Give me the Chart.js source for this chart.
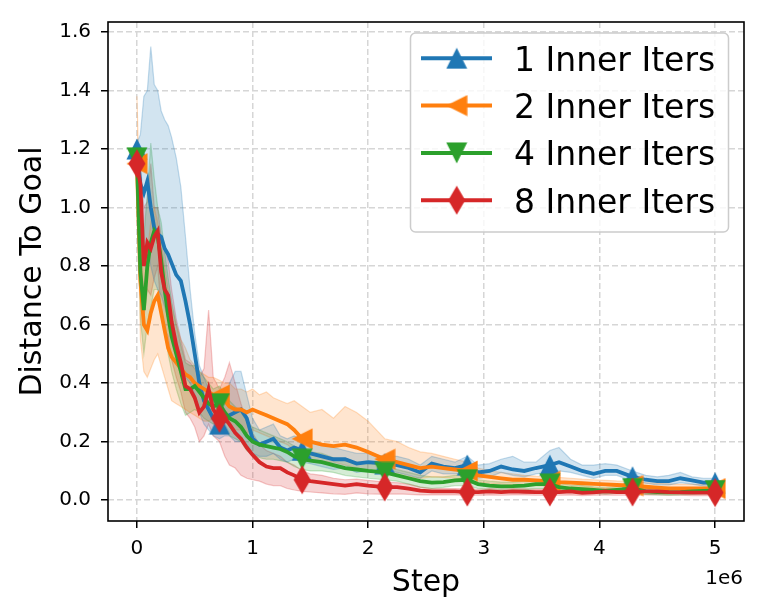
<!DOCTYPE html>
<html>
<head>
<meta charset="utf-8">
<script src="https://cdn.jsdelivr.net/npm/chart.js@4.4.1/dist/chart.umd.min.js"></script>
<style>
  body { margin: 0; background: #fff; }
  #wrap { width: 761px; height: 616px; }
</style>
</head>
<body>
<div id="wrap"><canvas id="myChart" width="761" height="616"></canvas></div>
<script>
// x values in units of 1e6 steps
const steps = [0, 0.03, 0.06, 0.09, 0.12, 0.15, 0.18, 0.21, 0.24, 0.27,
  0.3, 0.34, 0.38, 0.42, 0.46, 0.5, 0.54, 0.58, 0.62, 0.66,
  0.714, 0.76, 0.8, 0.85, 0.9, 0.95, 1.0, 1.06, 1.12, 1.18,
  1.24, 1.3, 1.36, 1.429, 1.5, 1.6, 1.7, 1.8, 1.9, 2.0,
  2.143, 2.25, 2.35, 2.45, 2.55, 2.65, 2.75, 2.857, 2.95, 3.05,
  3.15, 3.25, 3.35, 3.45, 3.571, 3.65, 3.75, 3.85, 3.95, 4.05,
  4.15, 4.286, 4.4, 4.5, 4.6, 4.7, 4.8, 4.9, 5.0];
// indexes of steps that carry a marker
const markerIdx = [0, 20, 33, 40, 47, 54, 61, 68];

const labels = ["1 Inner Iters", "2 Inner Iters", "4 Inner Iters", "8 Inner Iters"];

const mean1 = [1.20, 1.08, 1.05, 1.09, 1.00, 0.93, 0.91, 0.90, 0.86, 0.84,
  0.81, 0.77, 0.75, 0.68, 0.60, 0.50, 0.40, 0.34, 0.31, 0.28,
  0.26, 0.27, 0.29, 0.30, 0.31, 0.28, 0.21, 0.19, 0.20, 0.21,
  0.18, 0.17, 0.18, 0.17, 0.16, 0.15, 0.14, 0.14, 0.125, 0.13,
  0.125, 0.12, 0.11, 0.095, 0.125, 0.115, 0.11, 0.12, 0.095, 0.10,
  0.115, 0.105, 0.10, 0.11, 0.12, 0.13, 0.115, 0.10, 0.09, 0.10,
  0.10, 0.08, 0.07, 0.065, 0.065, 0.075, 0.068, 0.06, 0.06];
const hi1 = [1.22, 1.25, 1.38, 1.40, 1.55, 1.42, 1.40, 1.33, 1.30, 1.28,
  1.24, 1.17, 1.07, 0.90, 0.72, 0.57, 0.46, 0.42, 0.38, 0.34,
  0.31, 0.33, 0.40, 0.44, 0.44, 0.36, 0.28, 0.24, 0.25, 0.26,
  0.22, 0.21, 0.22, 0.21, 0.20, 0.19, 0.18, 0.17, 0.16, 0.16,
  0.15, 0.15, 0.14, 0.12, 0.15, 0.14, 0.13, 0.15, 0.12, 0.125,
  0.14, 0.15, 0.13, 0.13, 0.17, 0.18, 0.14, 0.12, 0.12, 0.125,
  0.12, 0.10, 0.085, 0.08, 0.085, 0.095, 0.08, 0.075, 0.075];
const lo1 = [1.18, 0.90, 0.85, 0.88, 0.80, 0.75, 0.72, 0.70, 0.66, 0.62,
  0.58, 0.50, 0.46, 0.42, 0.40, 0.36, 0.30, 0.26, 0.24, 0.22,
  0.21, 0.22, 0.22, 0.20, 0.20, 0.19, 0.16, 0.15, 0.15, 0.16,
  0.14, 0.13, 0.14, 0.13, 0.125, 0.115, 0.105, 0.11, 0.095, 0.10,
  0.10, 0.095, 0.085, 0.075, 0.10, 0.09, 0.09, 0.095, 0.075, 0.08,
  0.095, 0.085, 0.08, 0.09, 0.095, 0.10, 0.095, 0.085, 0.075, 0.085,
  0.085, 0.065, 0.058, 0.052, 0.052, 0.06, 0.055, 0.048, 0.048];

const mean2 = [1.15, 0.75, 0.60, 0.58, 0.64, 0.68, 0.70, 0.64, 0.58, 0.52,
  0.49, 0.47, 0.45, 0.43, 0.42, 0.40, 0.39, 0.38, 0.37, 0.36,
  0.36, 0.34, 0.32, 0.31, 0.31, 0.30, 0.31, 0.30, 0.29, 0.28,
  0.27, 0.26, 0.24, 0.21, 0.20, 0.19, 0.185, 0.19, 0.18, 0.165,
  0.14, 0.13, 0.12, 0.11, 0.115, 0.11, 0.105, 0.10, 0.085, 0.08,
  0.075, 0.07, 0.07, 0.068, 0.065, 0.062, 0.06, 0.058, 0.056, 0.054,
  0.052, 0.05, 0.046, 0.043, 0.04, 0.04, 0.04, 0.04, 0.04];
const hi2 = [1.38, 0.95, 0.82, 0.85, 0.95, 1.00, 0.95, 0.88, 0.80, 0.72,
  0.66, 0.60, 0.55, 0.52, 0.48, 0.46, 0.44, 0.43, 0.42, 0.42,
  0.41, 0.40, 0.40, 0.38, 0.38, 0.37, 0.38, 0.36, 0.37, 0.35,
  0.34, 0.33, 0.34, 0.32, 0.30, 0.31, 0.28, 0.32, 0.30, 0.27,
  0.21, 0.20, 0.18, 0.165, 0.16, 0.15, 0.14, 0.13, 0.11, 0.10,
  0.095, 0.09, 0.085, 0.082, 0.08, 0.078, 0.075, 0.072, 0.07, 0.068,
  0.066, 0.065, 0.06, 0.058, 0.056, 0.055, 0.054, 0.055, 0.058];
const lo2 = [1.13, 0.55, 0.44, 0.42, 0.45, 0.48, 0.50, 0.46, 0.42, 0.38,
  0.34, 0.33, 0.32, 0.31, 0.30, 0.29, 0.28, 0.27, 0.27, 0.28,
  0.29, 0.27, 0.25, 0.24, 0.24, 0.23, 0.24, 0.23, 0.22, 0.21,
  0.20, 0.19, 0.17, 0.15, 0.14, 0.13, 0.13, 0.12, 0.11, 0.10,
  0.09, 0.085, 0.08, 0.075, 0.08, 0.078, 0.075, 0.07, 0.062, 0.058,
  0.055, 0.052, 0.05, 0.05, 0.048, 0.046, 0.045, 0.044, 0.042, 0.04,
  0.04, 0.036, 0.033, 0.03, 0.028, 0.027, 0.026, 0.025, 0.024];

const mean4 = [1.17, 0.78, 0.65, 0.80, 0.88, 0.92, 0.90, 0.82, 0.72, 0.63,
  0.56, 0.50, 0.44, 0.38, 0.38, 0.39, 0.37, 0.35, 0.33, 0.32,
  0.33, 0.30, 0.28, 0.27, 0.25, 0.22, 0.20, 0.19, 0.185, 0.18,
  0.175, 0.165, 0.15, 0.14, 0.135, 0.13, 0.12, 0.11, 0.105, 0.10,
  0.095, 0.085, 0.075, 0.065, 0.06, 0.062, 0.068, 0.07, 0.055, 0.05,
  0.047, 0.048, 0.05, 0.055, 0.055, 0.045, 0.04, 0.038, 0.035, 0.032,
  0.035, 0.04, 0.03, 0.028, 0.027, 0.028, 0.03, 0.032, 0.033];
const hi4 = [1.19, 0.95, 0.90, 1.05, 1.22, 1.10, 1.00, 0.95, 0.85, 0.76,
  0.68, 0.60, 0.53, 0.47, 0.46, 0.46, 0.44, 0.42, 0.40, 0.38,
  0.39, 0.36, 0.34, 0.32, 0.30, 0.27, 0.25, 0.24, 0.23, 0.22,
  0.21, 0.20, 0.185, 0.175, 0.165, 0.16, 0.145, 0.135, 0.13, 0.125,
  0.12, 0.105, 0.095, 0.085, 0.08, 0.08, 0.085, 0.09, 0.07, 0.065,
  0.062, 0.062, 0.065, 0.07, 0.07, 0.058, 0.052, 0.05, 0.046, 0.043,
  0.046, 0.052, 0.04, 0.038, 0.037, 0.038, 0.04, 0.042, 0.044];
const lo4 = [1.15, 0.62, 0.50, 0.60, 0.66, 0.72, 0.72, 0.66, 0.58, 0.50,
  0.44, 0.38, 0.33, 0.29, 0.30, 0.31, 0.30, 0.28, 0.27, 0.26,
  0.27, 0.24, 0.22, 0.21, 0.20, 0.17, 0.155, 0.145, 0.14, 0.14,
  0.135, 0.13, 0.115, 0.105, 0.10, 0.10, 0.095, 0.085, 0.08, 0.075,
  0.07, 0.065, 0.055, 0.045, 0.04, 0.044, 0.05, 0.05, 0.04, 0.035,
  0.032, 0.034, 0.035, 0.04, 0.04, 0.032, 0.028, 0.026, 0.024, 0.021,
  0.024, 0.028, 0.02, 0.018, 0.017, 0.018, 0.02, 0.022, 0.022];

const mean8 = [1.15, 1.08, 0.80, 0.88, 0.86, 0.90, 0.92, 0.78, 0.72, 0.70,
  0.61, 0.53, 0.47, 0.39, 0.38, 0.35, 0.30, 0.32, 0.38, 0.31,
  0.28, 0.28, 0.26, 0.23, 0.21, 0.18, 0.155, 0.13, 0.115, 0.11,
  0.11, 0.095, 0.085, 0.07, 0.065, 0.06, 0.055, 0.05, 0.055, 0.05,
  0.045, 0.045, 0.04, 0.033, 0.03, 0.03, 0.03, 0.028, 0.028, 0.03,
  0.028, 0.03, 0.029, 0.028, 0.028, 0.028, 0.03, 0.025, 0.027, 0.03,
  0.028, 0.028, 0.03, 0.03, 0.028, 0.027, 0.026, 0.026, 0.026];
const hi8 = [1.17, 1.15, 1.00, 1.02, 1.15, 1.00, 1.00, 0.90, 0.86, 0.82,
  0.72, 0.62, 0.55, 0.48, 0.47, 0.45, 0.42, 0.45, 0.65, 0.42,
  0.38, 0.42, 0.47, 0.40, 0.33, 0.27, 0.23, 0.19, 0.17, 0.16,
  0.15, 0.13, 0.12, 0.10, 0.09, 0.085, 0.075, 0.07, 0.072, 0.068,
  0.062, 0.06, 0.055, 0.045, 0.04, 0.04, 0.04, 0.038, 0.037, 0.04,
  0.038, 0.04, 0.039, 0.038, 0.038, 0.038, 0.04, 0.035, 0.037, 0.04,
  0.038, 0.038, 0.04, 0.04, 0.038, 0.037, 0.036, 0.036, 0.036];
const lo8 = [1.13, 0.95, 0.62, 0.72, 0.70, 0.76, 0.80, 0.64, 0.58, 0.56,
  0.48, 0.42, 0.37, 0.30, 0.28, 0.25, 0.20, 0.22, 0.26, 0.22,
  0.20, 0.15, 0.12, 0.11, 0.085, 0.075, 0.07, 0.065, 0.055, 0.05,
  0.05, 0.04, 0.035, 0.03, 0.028, 0.025, 0.022, 0.02, 0.025, 0.022,
  0.02, 0.022, 0.02, 0.018, 0.018, 0.018, 0.018, 0.017, 0.017, 0.018,
  0.017, 0.018, 0.018, 0.017, 0.017, 0.017, 0.018, 0.016, 0.017, 0.018,
  0.017, 0.017, 0.018, 0.018, 0.017, 0.017, 0.016, 0.016, 0.016];

const xTicks = [0, 1, 2, 3, 4, 5];
const xTickLabels = ["0", "1", "2", "3", "4", "5"];
const yTicks = [0, 0.2, 0.4, 0.6, 0.8, 1.0, 1.2, 1.4, 1.6];
const yTickLabels = ["0.0", "0.2", "0.4", "0.6", "0.8", "1.0", "1.2", "1.4", "1.6"];

const colors = ["31,119,180", "255,127,14", "44,160,44", "214,39,40"];
const shapes = ["triangle_up", "triangle_left", "triangle_down", "thin_diamond"];
const means = [mean1, mean2, mean4, mean8];
const his = [hi1, hi2, hi4, hi8];
const los = [lo1, lo2, lo4, lo8];

const FONT = '"DejaVu Sans", sans-serif';
Chart.defaults.font.family = FONT;
Chart.defaults.color = "#000";

// matplotlib style marker drawn once into a small canvas
function markerImage(shape, color) {
  const c = document.createElement("canvas");
  const w = shape === "thin_diamond" ? 18 : 22;
  const h = shape === "thin_diamond" ? 30 : 22;
  c.width = w; c.height = h;
  const g = c.getContext("2d");
  const pts = {
    triangle_up: [[11, 0.5], [21.5, 21.5], [0.5, 21.5]],
    triangle_left: [[0.5, 11], [21.5, 0.5], [21.5, 21.5]],
    triangle_down: [[0.5, 0.5], [21.5, 0.5], [11, 21.5]],
    thin_diamond: [[9, 0.5], [17.5, 15], [9, 29.5], [0.5, 15]]
  }[shape];
  g.beginPath();
  pts.forEach((p, i) => i ? g.lineTo(p[0], p[1]) : g.moveTo(p[0], p[1]));
  g.closePath();
  g.fillStyle = "rgb(" + color + ")";
  g.fill();
  return c;
}
const markers = shapes.map((s, i) => markerImage(s, colors[i]));

const toXY = arr => arr.map((v, i) => ({ x: steps[i], y: v }));

const datasets = [];
for (let i = 0; i < 4; i++) {
  const loIndex = datasets.length;
  datasets.push({
    data: toXY(los[i]),
    borderColor: "rgba(" + colors[i] + ",0.25)",
    borderWidth: 1.2,
    pointRadius: 0,
    fill: false,
    order: 20 + i
  });
  datasets.push({
    data: toXY(his[i]),
    borderColor: "rgba(" + colors[i] + ",0.25)",
    backgroundColor: "rgba(" + colors[i] + ",0.2)",
    borderWidth: 1.2,
    pointRadius: 0,
    fill: loIndex,
    order: 20 + i
  });
}
for (let i = 0; i < 4; i++) {
  datasets.push({
    label: labels[i],
    data: toXY(means[i]),
    borderColor: "rgb(" + colors[i] + ")",
    borderWidth: 3.8,
    fill: false,
    pointStyle: ctx => markerIdx.includes(ctx.dataIndex) ? markers[i] : false,
    pointRadius: ctx => markerIdx.includes(ctx.dataIndex) ? 10 : 0,
    order: 3 - i
  });
}

const framePlugin = {
  id: "frame",
  afterDatasetsDraw(chart) {
    const { ctx, chartArea: a } = chart;
    ctx.save();
    ctx.strokeStyle = "#000";
    ctx.lineWidth = 1.6;
    ctx.strokeRect(a.left, a.top, a.right - a.left, a.bottom - a.top);
    ctx.restore();
  },
  afterDraw(chart) {
    const { ctx, chartArea: a } = chart;
    ctx.save();
    // offset text of the x axis
    ctx.font = "20px " + FONT;
    ctx.fillStyle = "#000";
    ctx.textAlign = "right";
    ctx.textBaseline = "alphabetic";
    ctx.fillText("1e6", a.right - 1, 584);

    // legend box
    const bx = 410.5, by = 33, bw = 318, bh = 199;
    ctx.beginPath();
    ctx.roundRect(bx, by, bw, bh, 5);
    ctx.fillStyle = "rgba(255,255,255,0.8)";
    ctx.fill();
    ctx.strokeStyle = "#cccccc";
    ctx.lineWidth = 1.5;
    ctx.stroke();
    ctx.font = "33px " + FONT;
    ctx.textAlign = "left";
    for (let i = 0; i < 4; i++) {
      const y = 58.3 + i * 47.3;
      ctx.beginPath();
      ctx.moveTo(421, y);
      ctx.lineTo(492, y);
      ctx.strokeStyle = "rgb(" + colors[i] + ")";
      ctx.lineWidth = 4;
      ctx.stroke();
      const m = markers[i];
      ctx.drawImage(m, 456.7 - m.width / 2, y - m.height / 2);
      ctx.fillStyle = "#000";
      ctx.fillText(labels[i], 514, y + 12.5);
    }
    ctx.restore();
  }
};

const gridCommon = {
  color: "#d6d6d6",
  lineWidth: 1.5,
  tickLength: 7,
  tickColor: "#000",
  tickWidth: 1.5,
  tickBorderDash: []
};

new Chart("myChart", {
  type: "line",
  data: { datasets: datasets },
  options: {
    responsive: false,
    animation: false,
    devicePixelRatio: 1,
    events: [],
    layout: { padding: { left: 0, right: 17, top: 16, bottom: 0 } },
    plugins: {
      legend: { display: false },
      tooltip: { enabled: false }
    },
    elements: { line: { tension: 0 } },
    scales: {
      x: {
        type: "linear",
        min: -0.25,
        max: 5.25,
        afterBuildTicks: s => { s.ticks = xTicks.map(v => ({ value: v })); },
        afterFit: s => { s.height = 95; },
        ticks: {
          font: { size: 20 },
          color: "#000",
          padding: 9,
          maxRotation: 0,
          callback: (v, i) => xTickLabels[i]
        },
        grid: gridCommon,
        border: { display: false, dash: [6, 3] },
        title: {
          display: true,
          text: "Step",
          font: { size: 30 },
          color: "#000",
          padding: { top: 0, bottom: 15 }
        }
      },
      y: {
        min: -0.071,
        max: 1.634,
        afterBuildTicks: s => { s.ticks = yTicks.map(v => ({ value: v })); },
        afterFit: s => { s.width = 108; },
        ticks: {
          font: { size: 20 },
          color: "#000",
          padding: 10,
          callback: (v, i) => yTickLabels[i]
        },
        grid: gridCommon,
        border: { display: false, dash: [6, 3] },
        title: {
          display: true,
          text: "Distance To Goal",
          font: { size: 30 },
          color: "#000",
          padding: { top: 15, bottom: 0 }
        }
      }
    }
  },
  plugins: [framePlugin]
});
</script>
</body>
</html>
